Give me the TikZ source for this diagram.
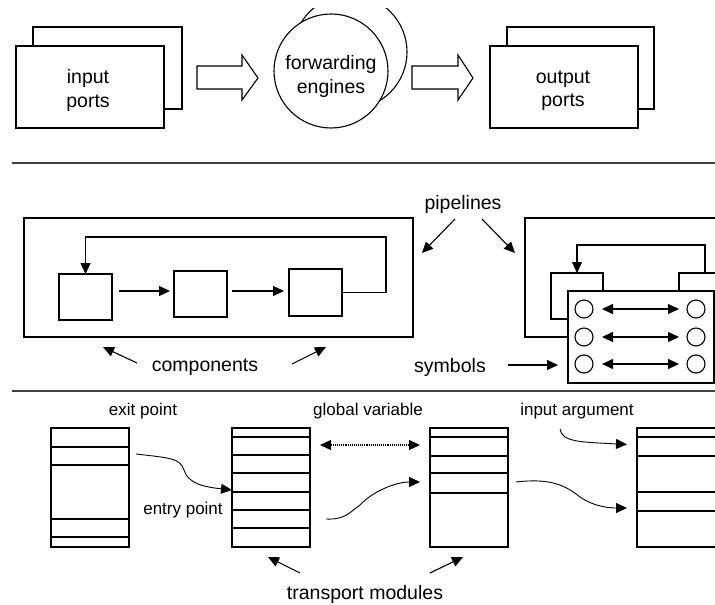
\documentclass[tikz,border=0pt]{standalone}
\usepackage{fontspec}
\setmainfont{Liberation Sans}
\usetikzlibrary{arrows.meta}
\begin{document}
\begin{tikzpicture}[x=1pt,y=-1pt,line width=1.1pt,
  lbl/.style={font=\fontsize{19.5}{23.5}\selectfont,align=center,inner sep=0pt,yshift=-2.5pt},
  sml/.style={font=\fontsize{17}{20}\selectfont,inner sep=0pt,yshift=-1.5pt},
  box/.style={draw,fill=white,inner sep=0pt,outer sep=0pt,anchor=north west},
  dot/.style={draw,circle,fill=white,inner sep=0pt,outer sep=0pt,minimum size=18pt},
  arr/.style={-{Triangle[length=11pt,width=10pt]}},
  darr/.style={{Triangle[length=11pt,width=10pt]}-{Triangle[length=11pt,width=10pt]}},
  curve/.style={line width=0.9pt,-{Triangle[length=11pt,width=10pt]}},
  sep/.style={draw=black!75,line width=1.5pt},
  barrow/.style={draw,fill=white}
]
\useasboundingbox (0,0) rectangle (715,605);
\clip (0,0) rectangle (715,605);

% ---------- top ----------
\node[box,minimum width=149pt,minimum height=82pt] (inB) at (33,27) {};
\node[box,minimum width=148pt,minimum height=82pt] (inF) at (16,46) {};
\node[lbl] (inT) at (88,88) {input\\ports};

\path[barrow] (197,66) -- (242,66) -- (242,55) -- (258,78) -- (242,100) -- (242,89) -- (197,89) -- cycle;

\begin{scope}
  \clip (0,8) rectangle (715,605);
  \node[draw,circle,inner sep=0pt,minimum size=114pt] (feB) at (350,52) {};
\end{scope}
\node[draw,circle,fill=white,inner sep=0pt,minimum size=114pt] (feF) at (331,71) {};
\node[lbl] (feT) at (331,74) {forwarding\\engines};

\path[barrow] (412,66) -- (458,66) -- (458,55) -- (473,78) -- (458,100) -- (458,89) -- (412,89) -- cycle;

\node[box,minimum width=147pt,minimum height=82pt] (outB) at (507,27) {};
\node[box,minimum width=148pt,minimum height=82pt] (outF) at (490,46) {};
\node[lbl] (outT) at (563,88) {output\\ports};

\coordinate (s1a) at (12,163); \coordinate (s1b) at (715,163);
\draw[sep] (s1a) -- (s1b);

% ---------- middle ----------
\node[box,minimum width=389pt,minimum height=119pt] (pipeL) at (24,218) {};
\node[box,minimum width=53pt,minimum height=46pt] (c1) at (59,274) {};
\node[box,minimum width=53pt,minimum height=46pt] (c2) at (174,271) {};
\node[box,minimum width=53pt,minimum height=47pt] (c3) at (289,269) {};
\coordinate (a1) at (119,291);
\coordinate (a2) at (232,291);
\draw[arr,shorten >=4pt] (a1) -- (a1 -| c2.west);
\draw[arr,shorten >=5pt] (a2) -- (a2 -| c3.west);
\draw[arr] (c3.east) -| (386,237) -| (c1.north);

\node[lbl] (comp) at (205,365) {components};
\coordinate (cp1) at (137,363); \coordinate (cp2) at (103,347);
\coordinate (cp3) at (292,364); \coordinate (cp4) at (326,347);
\draw[arr] (cp1) -- (cp2);
\draw[arr] (cp3) -- (cp4);

\node[lbl] (pipe) at (463,202) {pipelines};
\coordinate (pp1) at (455,219); \coordinate (pp2) at (422,253);
\coordinate (pp3) at (482,219); \coordinate (pp4) at (515,253);
\draw[arr] (pp1) -- (pp2);
\draw[arr] (pp3) -- (pp4);

\node[box,minimum width=250pt,minimum height=119pt] (pipeR) at (525,218) {};
\node[box,minimum width=52pt,minimum height=46pt] (lc) at (551,273) {};
\node[box,minimum width=52pt,minimum height=46pt] (rc) at (679,273) {};
\draw[arr] (rc.north) -- ++(0,-28) -| (lc.north);
\node[box,minimum width=146pt,minimum height=92pt] (sym) at (568,291) {};
\foreach \i/\y in {1/309,2/337,3/364}{
  \node[dot] (l\i) at (584,\y) {};
  \node[dot] (r\i) at (696,\y) {};
  \draw[darr,shorten <=9pt,shorten >=8pt] (l\i) -- (r\i);
}
\node[lbl] (symT) at (450,365) {symbols};
\coordinate (sy1) at (508,365);
\draw[arr,shorten >=10pt] (sy1) -- (sy1 -| sym.west);

\coordinate (s2a) at (12,391); \coordinate (s2b) at (715,391);
\draw[sep] (s2a) -- (s2b);

% ---------- bottom ----------
\node[box,minimum width=78pt,minimum height=119pt] (m1) at (51,428) {};
\node[box,minimum width=78pt,minimum height=119pt] (m2) at (232,428) {};
\node[box,minimum width=78pt,minimum height=119pt] (m3) at (430,428) {};
\node[box,minimum width=100pt,minimum height=119pt] (m4) at (637,428) {};
\foreach \y in {447,465,519,537} \draw (m1.west |- 0,\y) -- (m1.east |- 0,\y);
\foreach \y in {437,455,473,492,510,528} \draw (m2.west |- 0,\y) -- (m2.east |- 0,\y);
\foreach \y in {437,456,473,493} \draw (m3.west |- 0,\y) -- (m3.east |- 0,\y);
\foreach \y in {437,456,492,511} \draw (m4.west |- 0,\y) -- (m4.east |- 0,\y);

\node[sml] (exitT) at (143,410) {exit point};
\node[sml] (entryT) at (183,509) {entry point};
\node[sml] (globT) at (368,410) {global variable};
\node[sml] (argT) at (577,410) {input argument};
\node[lbl] (transT) at (365,592) {transport modules};

\coordinate (e1) at (136,454);
\draw[curve] (e1) .. controls (170,458) and (180,458) .. (184,470)
  .. controls (188,484) and (205,487) .. (m2.west |- 0,490);
\coordinate (g1) at (320,445);
\draw[darr,densely dotted,shorten <=10pt,shorten >=10pt] (g1 -| m2.east) -- (g1 -| m3.west);
\coordinate (n1) at (326,519);
\draw[curve,shorten >=10pt] (n1) .. controls (345,520) and (350,512) .. (360,505)
  .. controls (372,492) and (395,482) .. (m3.west |- 0,482);
\coordinate (ia) at (560,429);
\draw[curve,shorten >=10pt] (ia) .. controls (562,442) and (580,442) .. (m4.west |- 0,445);
\coordinate (q1) at (516,482);
\draw[curve,shorten >=10pt] (q1) .. controls (550,478) and (565,485) .. (580,497)
  .. controls (595,507) and (610,508) .. (m4.west |- 0,508);

\coordinate (t1) at (300,573); \coordinate (t2) at (268,557);
\coordinate (t3) at (430,573); \coordinate (t4) at (463,557);
\draw[arr] (t1) -- (t2);
\draw[arr] (t3) -- (t4);
\end{tikzpicture}
\end{document}
